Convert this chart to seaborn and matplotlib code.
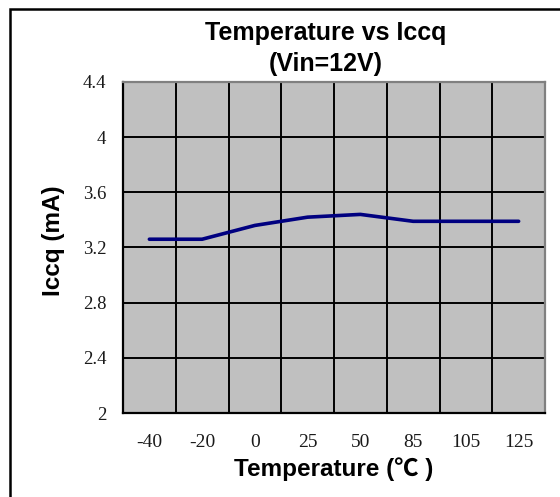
import matplotlib
matplotlib.use("Agg")
import matplotlib.pyplot as plt
import seaborn as sns
import pandas as pd
import numpy as np
from matplotlib.ticker import FixedLocator
from matplotlib.patches import Rectangle

temps = ['-40', '-20', '0', '25', '50', '85', '105', '125']
iccq = [3.26, 3.26, 3.36, 3.42, 3.44, 3.39, 3.39, 3.39]
yticks = [2, 2.4, 2.8, 3.2, 3.6, 4, 4.4]
ytick_labels = ['2', '2.4', '2.8', '3.2', '3.6', '4', '4.4']

sns.set_style("white")
plt.rcParams['font.family'] = ['Liberation Sans', 'DejaVu Sans']
plt.rcParams['text.color'] = 'black'
plt.rcParams['axes.labelcolor'] = 'black'

df = pd.DataFrame({'pos': np.arange(len(temps)), 'iccq': iccq})

fig = plt.figure(figsize=(5.6, 4.97), dpi=100)
ax = fig.add_axes([123/560, 1-413/497, (545-123)/560, (413-82)/497])
ax.set_facecolor('#c0c0c0')

sns.lineplot(data=df, x='pos', y='iccq', ax=ax, color='#000080', linewidth=2.6, zorder=3)

n = len(temps)
ax.set_xlim(-0.5, n - 0.5)
ax.set_ylim(yticks[0], yticks[-1])
ax.set_xticks(df['pos'])
ax.set_xticklabels(temps, family='Liberation Serif', fontsize=14, color='#1a1a1a')
ax.set_yticks(yticks)
ax.set_yticklabels(ytick_labels, family='Liberation Serif', fontsize=13.5, color='#1a1a1a')
ax.xaxis.set_minor_locator(FixedLocator(np.arange(n + 1) - 0.5))
ax.tick_params(axis='x', which='both', length=0, pad=15)
ax.tick_params(axis='y', which='both', length=0, pad=12)
ax.grid(False)
ax.xaxis.grid(True, which='minor', color='black', linewidth=1.4, zorder=1)
ax.yaxis.grid(True, which='major', color='black', linewidth=1.4, zorder=1)
ax.set_axisbelow(True)

for side in ['left', 'bottom']:
    ax.spines[side].set_color('black')
    ax.spines[side].set_linewidth(1.6)
for side in ['top', 'right']:
    ax.spines[side].set_color('#808080')
    ax.spines[side].set_linewidth(1.6)

ax.set_xlabel('Temperature (℃ )', fontsize=17.5, fontweight='bold', labelpad=5,
              family=['Liberation Sans', 'Noto Sans CJK SC', 'DejaVu Sans'])
ax.set_ylabel('Iccq (mA)', fontsize=17.5, fontweight='bold')
ax.yaxis.set_label_coords(-0.137, 0.52)

fig.text(326/560, 1-33/497, 'Temperature vs Iccq', ha='center', va='center',
         fontsize=18, fontweight='bold')
fig.text(326/560, 1-64/497, '(Vin=12V)', ha='center', va='center',
         fontsize=18, fontweight='bold')

fig.patches.append(Rectangle((10/560, -0.1), 1.2, 1 - 9/497 + 0.1,
                             transform=fig.transFigure, fill=False,
                             edgecolor='black', linewidth=1.8))

fig.savefig('out.png', dpi=100)
